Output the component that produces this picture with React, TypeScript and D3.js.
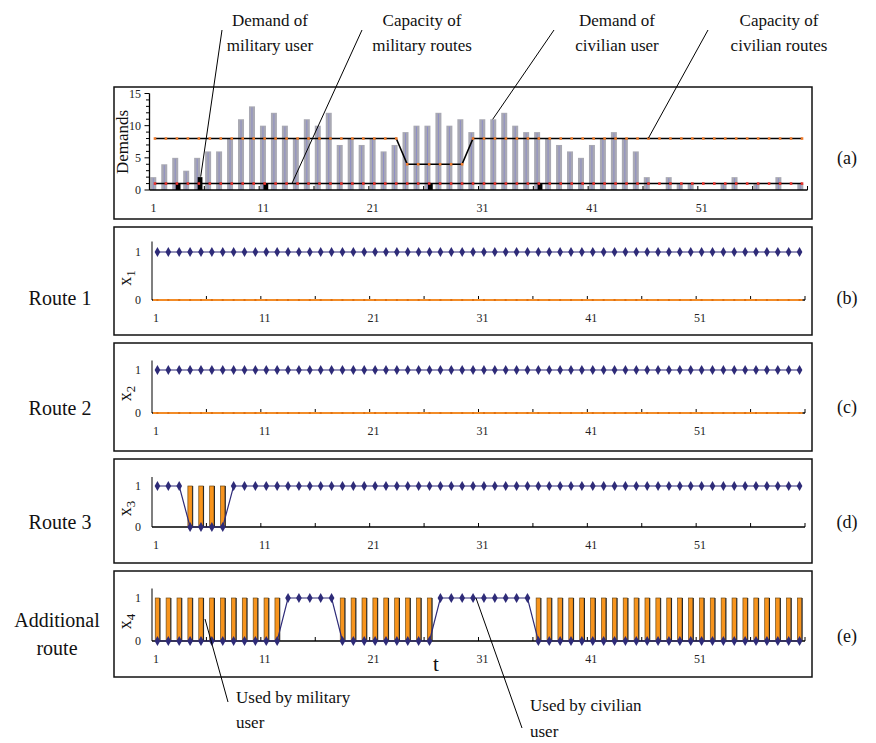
import React from 'react';
import * as d3 from 'd3';

const T = d3.range(1, 61);
const xLabels = [1, 11, 21, 31, 41, 51];
const demandTicks = [0, 5, 10, 15];

const civilianDemand = [2, 4, 5, 3, 5, 6, 6, 8, 11, 13, 10, 12, 10, 8, 11, 10, 12, 7, 8, 7,
  8, 6, 7, 9, 10, 10, 12, 10, 11, 9, 11, 11, 12, 10, 9, 9, 8, 7, 6, 5,
  7, 8, 9, 8, 6, 2, 0, 2, 1, 1, 0, 0, 1, 2, 0, 1, 0, 2, 0, 1];
const militaryDemand = [0, 0, 1, 0, 2, 0, 0, 0, 0, 0, 1, 0, 0, 0, 0, 0, 0, 0, 0, 0,
  0, 0, 0, 0, 0, 1, 0, 0, 0, 0, 0, 0, 0, 0, 0, 1, 0, 0, 0, 0,
  0, 0, 0, 0, 0, 0, 0, 0, 0, 0, 0, 0, 0, 0, 0, 0, 0, 0, 0, 0];
const civilianCapacity = [8, 8, 8, 8, 8, 8, 8, 8, 8, 8, 8, 8, 8, 8, 8, 8, 8, 8, 8, 8,
  8, 8, 8, 4, 4, 4, 4, 4, 4, 8, 8, 8, 8, 8, 8, 8, 8, 8, 8, 8,
  8, 8, 8, 8, 8, 8, 8, 8, 8, 8, 8, 8, 8, 8, 8, 8, 8, 8, 8, 8];
const militaryCapacity = [1, 1, 1, 1, 1, 1, 1, 1, 1, 1, 1, 1, 1, 1, 1, 1, 1, 1, 1, 1,
  1, 1, 1, 1, 1, 1, 1, 1, 1, 1, 1, 1, 1, 1, 1, 1, 1, 1, 1, 1,
  1, 1, 1, 1, 1, 1, 1, 1, 1, 1, 1, 1, 1, 1, 1, 1, 1, 1, 1, 1];

const x1 = [1, 1, 1, 1, 1, 1, 1, 1, 1, 1, 1, 1, 1, 1, 1, 1, 1, 1, 1, 1,
  1, 1, 1, 1, 1, 1, 1, 1, 1, 1, 1, 1, 1, 1, 1, 1, 1, 1, 1, 1,
  1, 1, 1, 1, 1, 1, 1, 1, 1, 1, 1, 1, 1, 1, 1, 1, 1, 1, 1, 1];
const x2 = [1, 1, 1, 1, 1, 1, 1, 1, 1, 1, 1, 1, 1, 1, 1, 1, 1, 1, 1, 1,
  1, 1, 1, 1, 1, 1, 1, 1, 1, 1, 1, 1, 1, 1, 1, 1, 1, 1, 1, 1,
  1, 1, 1, 1, 1, 1, 1, 1, 1, 1, 1, 1, 1, 1, 1, 1, 1, 1, 1, 1];
const x3 = [1, 1, 1, 0, 0, 0, 0, 1, 1, 1, 1, 1, 1, 1, 1, 1, 1, 1, 1, 1,
  1, 1, 1, 1, 1, 1, 1, 1, 1, 1, 1, 1, 1, 1, 1, 1, 1, 1, 1, 1,
  1, 1, 1, 1, 1, 1, 1, 1, 1, 1, 1, 1, 1, 1, 1, 1, 1, 1, 1, 1];
const x4 = [0, 0, 0, 0, 0, 0, 0, 0, 0, 0, 0, 0, 1, 1, 1, 1, 1, 0, 0, 0,
  0, 0, 0, 0, 0, 0, 1, 1, 1, 1, 1, 1, 1, 1, 1, 0, 0, 0, 0, 0,
  0, 0, 0, 0, 0, 0, 0, 0, 0, 0, 0, 0, 0, 0, 0, 0, 0, 0, 0, 0];
// military use of each route (orange bars)
const m1 = [0, 0, 0, 0, 0, 0, 0, 0, 0, 0, 0, 0, 0, 0, 0, 0, 0, 0, 0, 0,
  0, 0, 0, 0, 0, 0, 0, 0, 0, 0, 0, 0, 0, 0, 0, 0, 0, 0, 0, 0,
  0, 0, 0, 0, 0, 0, 0, 0, 0, 0, 0, 0, 0, 0, 0, 0, 0, 0, 0, 0];
const m2 = [0, 0, 0, 0, 0, 0, 0, 0, 0, 0, 0, 0, 0, 0, 0, 0, 0, 0, 0, 0,
  0, 0, 0, 0, 0, 0, 0, 0, 0, 0, 0, 0, 0, 0, 0, 0, 0, 0, 0, 0,
  0, 0, 0, 0, 0, 0, 0, 0, 0, 0, 0, 0, 0, 0, 0, 0, 0, 0, 0, 0];
const m3 = [0, 0, 0, 1, 1, 1, 1, 0, 0, 0, 0, 0, 0, 0, 0, 0, 0, 0, 0, 0,
  0, 0, 0, 0, 0, 0, 0, 0, 0, 0, 0, 0, 0, 0, 0, 0, 0, 0, 0, 0,
  0, 0, 0, 0, 0, 0, 0, 0, 0, 0, 0, 0, 0, 0, 0, 0, 0, 0, 0, 0];
const m4 = [1, 1, 1, 1, 1, 1, 1, 1, 1, 1, 1, 1, 0, 0, 0, 0, 0, 1, 1, 1,
  1, 1, 1, 1, 1, 1, 0, 0, 0, 0, 0, 0, 0, 0, 0, 1, 1, 1, 1, 1,
  1, 1, 1, 1, 1, 1, 1, 1, 1, 1, 1, 1, 1, 1, 1, 1, 1, 1, 1, 1];

const SERIF = '"Liberation Serif", "Times New Roman", serif';
const FRAME_L = 114;
const FRAME_R = 812;
const NAVY = '#2e2b78';
const ORANGE = '#f7941d';

function XAxis({ x, y0 }: { x: d3.ScaleBand<number>; y0: number }) {
  const [r0, r1] = x.range();
  const step = x.step();
  const ticks = d3.range(1, 13).map((k) => r0 + k * 5 * step);
  return (
    <g>
      <line x1={r0} x2={r1} y1={y0} y2={y0} stroke="#000" strokeWidth={1.3} />
      {ticks.map((tx, i) => (
        <line key={i} x1={tx} x2={tx} y1={y0} y2={y0 - 4} stroke="#000" strokeWidth={1} />
      ))}
      {xLabels.map((t) => (
        <text key={t} x={(x(t) as number) + step / 2 - 1.5} y={y0 + 22} textAnchor="middle"
          fontFamily={SERIF} fontSize={12} fill="#222">{t}</text>
      ))}
    </g>
  );
}

function DemandPanel() {
  const x = d3.scaleBand<number>().domain(T).range([149.5, 807.5]).padding(0);
  const y = d3.scaleLinear().domain([0, 15]).range([190, 93.5]);
  const step = x.step();
  const cx = (t: number) => (x(t) as number) + step / 2;
  const line = d3.line<number>().x((d, i) => cx(T[i])).y((d) => y(d));
  return (
    <g>
      <rect x={FRAME_L} y={87} width={FRAME_R - FRAME_L} height={132} fill="none" stroke="#111" strokeWidth={1.5} />
      {T.map((t, i) => civilianDemand[i] > 0 && (
        <g key={'c' + t}>
          <rect x={cx(t) - 1.7 - 3} y={y(civilianDemand[i])} width={6}
            height={y(0) - y(civilianDemand[i])} fill="#a9a9b3" />
          <line x1={cx(t) - 1.7} x2={cx(t) - 1.7} y1={y(civilianDemand[i]) + 1} y2={y(0)}
            stroke="#8e8ec6" strokeWidth={1} />
        </g>
      ))}
      {T.map((t, i) => militaryDemand[i] > 0 && (
        <rect key={'m' + t} x={cx(t) + 1.2 - 2.4} y={y(militaryDemand[i])} width={4.8}
          height={y(0) - y(militaryDemand[i])} fill="#000" />
      ))}
      <path d={line(civilianCapacity) || ''} fill="none" stroke="#000" strokeWidth={1.6} />
      <path d={line(militaryCapacity) || ''} fill="none" stroke="#000" strokeWidth={1.6} />
      {T.map((t, i) => (
        <rect key={'cc' + t} x={cx(t) - 1.3} y={y(civilianCapacity[i]) - 1.3} width={2.6} height={2.6} fill="#f07a2a" />
      ))}
      {T.map((t, i) => (
        <rect key={'mc' + t} x={cx(t) - 1.3} y={y(militaryCapacity[i]) - 1.3} width={2.6} height={2.6} fill="#e8302a" />
      ))}
      {/* y axis */}
      <line x1={149.5} x2={149.5} y1={y(0)} y2={y(15)} stroke="#000" strokeWidth={1.3} />
      {d3.range(0, 16).map((v) => (
        <line key={v} x1={149.5} x2={v % 5 === 0 ? 144.5 : 146} y1={y(v)} y2={y(v)} stroke="#000" strokeWidth={1} />
      ))}
      {demandTicks.map((v) => (
        <text key={v} x={141} y={y(v) + 4} textAnchor="end" fontFamily={SERIF} fontSize={12} fill="#222">{v}</text>
      ))}
      <XAxis x={x} y0={y(0)} />
      <text transform={`translate(128,142) rotate(-90)`} textAnchor="middle" fontFamily={SERIF} fontSize={17} fill="#111">Demands</text>
    </g>
  );
}

function RoutePanel({ top, bottom, y0, y1, xs, ms, sub, orangeLine }: {
  top: number; bottom: number; y0: number; y1: number; xs: number[]; ms: number[]; sub: string; orangeLine: boolean;
}) {
  const x = d3.scaleBand<number>().domain(T).range([152, 805]).padding(0);
  const y = d3.scaleLinear().domain([0, 1]).range([y0, y1]);
  const step = x.step();
  const cx = (t: number) => (x(t) as number) + step / 2;
  const line = d3.line<number>().x((d, i) => cx(T[i])).y((d) => y(d));
  const diamond = d3.symbol().type(d3.symbolDiamond).size(28)();
  const bw = 4.4;
  return (
    <g>
      <rect x={FRAME_L} y={top} width={FRAME_R - FRAME_L} height={bottom - top} fill="none" stroke="#111" strokeWidth={1.5} />
      {/* y axis */}
      <line x1={152} x2={152} y1={y(0)} y2={y(1.22)} stroke="#555" strokeWidth={1.5} />
      <XAxis x={x} y0={y(0)} />
      {orangeLine && (
        <g>
          <line x1={153} x2={cx(60) + 3} y1={y(0)} y2={y(0)} stroke="#f28c28" strokeWidth={2} />
          {T.map((t) => (
            <line key={'o' + t} x1={cx(t) - 1} x2={cx(t) + 1} y1={y(0)} y2={y(0)} stroke="#e07010" strokeWidth={2} />
          ))}
        </g>
      )}
      {T.map((t, i) => ms[i] > 0 && (
        <g key={'b' + t}>
          <rect x={cx(t) - bw / 2} y={y(ms[i])} width={bw} height={y(0) - y(ms[i])}
            fill={ORANGE} stroke="#6e4a16" strokeWidth={0.7} />
          <line x1={cx(t) + bw / 2 + 0.4} x2={cx(t) + bw / 2 + 0.4} y1={y(ms[i])} y2={y(0)} stroke="#222" strokeWidth={1} />
        </g>
      ))}
      <path d={line(xs) || ''} fill="none" stroke={NAVY} strokeWidth={1.2} />
      {T.map((t, i) => (
        <path key={'d' + t} d={diamond || ''} transform={`translate(${cx(t)},${y(xs[i])})`} fill={NAVY} />
      ))}
      {[0, 1].map((v) => (
        <text key={v} x={141} y={y(v) + 4} textAnchor="end" fontFamily={SERIF} fontSize={12} fill="#222">{v}</text>
      ))}
      <text transform={`translate(131,${(y0 + y1) / 2 + 2}) rotate(-90)`} textAnchor="middle" fontFamily={SERIF} fontSize={18} fill="#111">
        x<tspan fontSize={13} dy={4}>{sub}</tspan>
      </text>
    </g>
  );
}

export default function App() {
  const txt = { fontFamily: SERIF, fontSize: 17, fill: '#111' };
  const big = { fontFamily: SERIF, fontSize: 20, fill: '#111' };
  return (
    <svg width={876} height={743} style={{ display: 'block', position: 'absolute', left: 0, top: 0, background: '#fff' }}>
      <rect width={876} height={743} fill="#fff" />
      {/* top annotations */}
      <text {...txt} x={270} y={26} textAnchor="middle">Demand of</text>
      <text {...txt} x={270} y={51} textAnchor="middle">military user</text>
      <text {...txt} x={422} y={26} textAnchor="middle">Capacity of</text>
      <text {...txt} x={422} y={51} textAnchor="middle">military routes</text>
      <text {...txt} x={617} y={26} textAnchor="middle">Demand of</text>
      <text {...txt} x={617} y={51} textAnchor="middle">civilian user</text>
      <text {...txt} x={779} y={26} textAnchor="middle">Capacity of</text>
      <text {...txt} x={779} y={51} textAnchor="middle">civilian routes</text>

      <DemandPanel />
      <RoutePanel top={227} bottom={335} y0={300} y1={252} xs={x1} ms={m1} sub="1" orangeLine={true} />
      <RoutePanel top={343} bottom={451} y0={413} y1={370} xs={x2} ms={m2} sub="2" orangeLine={true} />
      <RoutePanel top={459} bottom={563} y0={527} y1={486} xs={x3} ms={m3} sub="3" orangeLine={false} />
      <RoutePanel top={571} bottom={677} y0={641} y1={598} xs={x4} ms={m4} sub="4" orangeLine={false} />

      {/* leader lines */}
      <g stroke="#000" strokeWidth={1}>
        <line x1={222} y1={30} x2={200.7} y2={176.7} />
        <line x1={362} y1={30} x2={291.7} y2={184} />
        <line x1={554} y1={30} x2={492.7} y2={119.3} />
        <line x1={708} y1={30} x2={648.3} y2={138.3} />
        <line x1={205} y1={619} x2={228} y2={702} />
        <line x1={476} y1={598} x2={522} y2={728} />
      </g>

      {/* left labels */}
      <text {...big} x={60} y={305} textAnchor="middle">Route 1</text>
      <text {...big} x={60} y={415} textAnchor="middle">Route 2</text>
      <text {...big} x={60} y={529} textAnchor="middle">Route 3</text>
      <text {...big} x={57} y={627} textAnchor="middle">Additional</text>
      <text {...big} x={57} y={655} textAnchor="middle">route</text>

      {/* right labels */}
      <text {...txt} fontSize={18} x={847} y={164} textAnchor="middle">(a)</text>
      <text {...txt} fontSize={18} x={847} y={304} textAnchor="middle">(b)</text>
      <text {...txt} fontSize={18} x={847} y={413} textAnchor="middle">(c)</text>
      <text {...txt} fontSize={18} x={847} y={528} textAnchor="middle">(d)</text>
      <text {...txt} fontSize={18} x={847} y={642} textAnchor="middle">(e)</text>

      <text {...txt} fontSize={21} x={436} y={671} textAnchor="middle">t</text>

      {/* bottom annotations */}
      <text {...txt} x={236} y={703}>Used by military</text>
      <text {...txt} x={236} y={728}>user</text>
      <text {...txt} x={530} y={711}>Used by civilian</text>
      <text {...txt} x={530} y={737}>user</text>
    </svg>
  );
}
